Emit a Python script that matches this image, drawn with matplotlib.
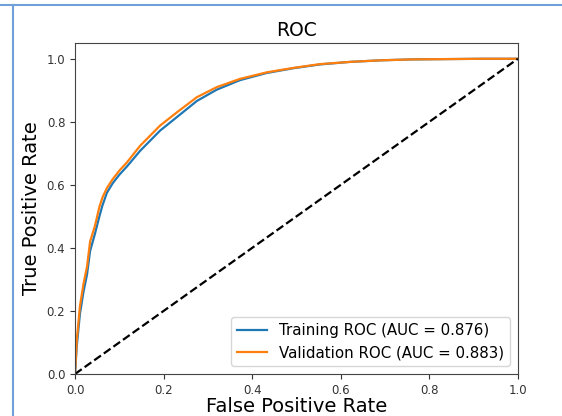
import matplotlib
matplotlib.use("Agg")
import matplotlib.pyplot as plt
from matplotlib.lines import Line2D

# ROC curve points (false positive rate, true positive rate)
train_fpr = [0.0, 0.004, 0.011, 0.019, 0.027, 0.034, 0.045, 0.055, 0.062, 0.072,
             0.085, 0.100, 0.117, 0.147, 0.192, 0.230, 0.275, 0.320, 0.372, 0.433,
             0.493, 0.553, 0.620, 0.688, 0.760, 0.840, 0.920, 1.0]
train_tpr = [0.0, 0.090, 0.190, 0.260, 0.315, 0.390, 0.445, 0.500, 0.535, 0.575,
             0.605, 0.632, 0.658, 0.708, 0.772, 0.815, 0.866, 0.902, 0.932, 0.955,
             0.970, 0.982, 0.990, 0.995, 0.998, 0.999, 1.0, 1.0]

val_fpr = [0.0, 0.004, 0.011, 0.019, 0.027, 0.034, 0.045, 0.055, 0.062, 0.072,
           0.085, 0.100, 0.117, 0.147, 0.192, 0.230, 0.275, 0.320, 0.372, 0.433,
           0.493, 0.553, 0.620, 0.688, 0.760, 0.840, 0.920, 1.0]
val_tpr = [0.0, 0.108, 0.214, 0.285, 0.340, 0.420, 0.470, 0.530, 0.560, 0.590,
           0.618, 0.645, 0.671, 0.724, 0.788, 0.830, 0.878, 0.910, 0.936, 0.957,
           0.971, 0.983, 0.990, 0.995, 0.998, 0.999, 1.0, 1.0]

train_auc = 0.876
val_auc = 0.883

fig = plt.figure(figsize=(5.62, 4.16), dpi=100)
ax = fig.add_axes([0.1335, 0.101, 0.788, 0.7956])

ax.plot(train_fpr, train_tpr, color="#1f77b4", lw=1.6,
        label="Training ROC (AUC = %.3f)" % train_auc)
ax.plot(val_fpr, val_tpr, color="#ff7f0e", lw=1.6,
        label="Validation ROC (AUC = %.3f)" % val_auc)
ax.plot([0, 1], [0, 1], "k--", lw=1.6)

ax.set_xlim(0, 1)
ax.set_ylim(0, 1.05)
ax.set_xticks([0.0, 0.2, 0.4, 0.6, 0.8, 1.0])
ax.set_yticks([0.0, 0.2, 0.4, 0.6, 0.8, 1.0])
ax.tick_params(labelsize=8.5, colors="#333333")
for s in ax.spines.values():
    s.set_color("#444444")

ax.set_title("ROC", fontsize=13.5, pad=5)
ax.set_xlabel("False Positive Rate", fontsize=14, labelpad=0)
ax.set_ylabel("True Positive Rate", fontsize=14)
ax.legend(loc="lower right", fontsize=10.8)

# frame lines along the top and left edges
fig.add_artist(Line2D([0, 1], [1 - 5 / 416, 1 - 5 / 416], color="#6fa0d8", lw=1.5,
                      transform=fig.transFigure))
fig.add_artist(Line2D([12.5 / 562, 12.5 / 562], [0, 1 - 5 / 416], color="#6fa0d8", lw=1.5,
                      transform=fig.transFigure))

fig.savefig("out.png", dpi=100)
